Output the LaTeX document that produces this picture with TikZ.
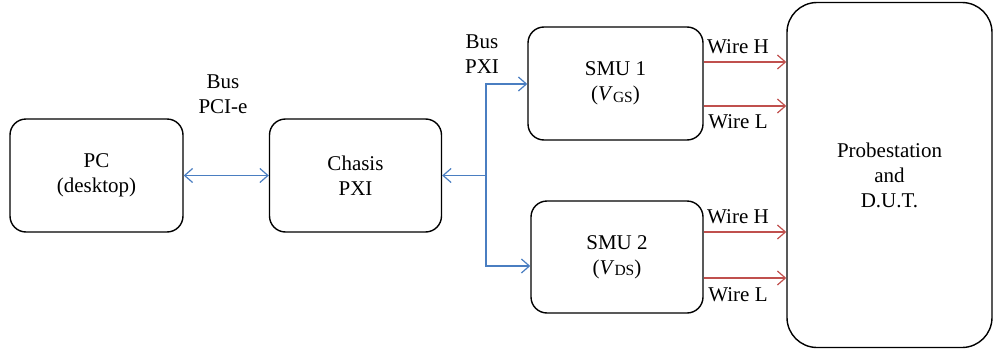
\documentclass[tikz,border=0pt]{standalone}
\usepackage{fontspec}
\setmainfont{Liberation Serif}
\usetikzlibrary{arrows.meta}
\definecolor{busblue}{RGB}{74,126,193}
\definecolor{wirered}{RGB}{192,80,77}
\newcommand{\subtxt}[1]{\raisebox{-1.5pt}{\fontsize{15.5}{15.5}\selectfont #1}}
\begin{document}
\begin{tikzpicture}[x=1pt,y=-1pt,
  box/.style={draw=black,line width=1.4pt,rounded corners=16pt,align=center,inner sep=0pt},
  lbl/.style={align=center,inner sep=0pt},
  tipa/.style={},
  bl/.style={draw=busblue,line width=1.3pt,arrows={-Straight Barb[length=8pt,width=14pt,line width=1.2pt]}},
  blb/.style={draw=busblue,line width=1.3pt,arrows={Straight Barb[length=8pt,width=14pt,line width=1.2pt]-Straight Barb[length=8pt,width=14pt,line width=1.2pt]}},
  rd/.style={draw=wirered,line width=1.3pt,arrows={-Straight Barb[length=8pt,width=14pt,line width=1.2pt]}},
  every node/.style={font=\fontsize{21}{25}\selectfont}]
\useasboundingbox (0,0) rectangle (994,351);
\node[box,minimum width=173pt,minimum height=113pt] (pc) at (96.5,175.5) {PC\\(desktop)};
\node[box,minimum width=172pt,minimum height=113pt] (chasis) at (355.5,175.5) {Chasis\\PXI};
\node[box,minimum width=175pt,minimum height=113pt] (smu1) at (615.5,83.5) {SMU 1\\(\textit{V}\subtxt{GS})};
\node[box,minimum width=172pt,minimum height=112pt] (smu2) at (617,257) {SMU 2\\(\textit{V}\subtxt{DS})};
\node[box,rounded corners=30pt,minimum width=205pt,minimum height=345pt] (probe) at (889.5,175) {Probestation\\and\\D.U.T.};
\node[lbl] (buspci) at (223,94.5) {Bus\\PCI-e};
\node[lbl] (buspxi) at (482,54) {Bus\\PXI};
\coordinate (jt) at (486,84);
\coordinate (jm) at (486,175.5);
\coordinate (jb) at (486,266);
\draw[blb] (pc.east) -- (chasis.west);
\draw[bl] (jm) -- (chasis.east);
\draw[blb] (jt -| smu1.west) -- (jt) -- (jb) -- (jb -| smu2.west);
\coordinate (h1) at ([yshift=21.5pt]smu1.east);
\coordinate (l1) at ([yshift=-22.5pt]smu1.east);
\coordinate (h2) at ([yshift=25pt]smu2.east);
\coordinate (l2) at ([yshift=-21pt]smu2.east);
\draw[rd] (h1) -- (h1 -| probe.west);
\draw[rd] (l1) -- (l1 -| probe.west);
\draw[rd] (h2) -- (h2 -| probe.west);
\draw[rd] (l2) -- (l2 -| probe.west);
\node[lbl] (wh1) at (738,47) {Wire H};
\node[lbl] (wl1) at (738,122) {Wire L};
\node[lbl] (wh2) at (738,217) {Wire H};
\node[lbl] (wl2) at (738,295) {Wire L};
\end{tikzpicture}
\end{document}
